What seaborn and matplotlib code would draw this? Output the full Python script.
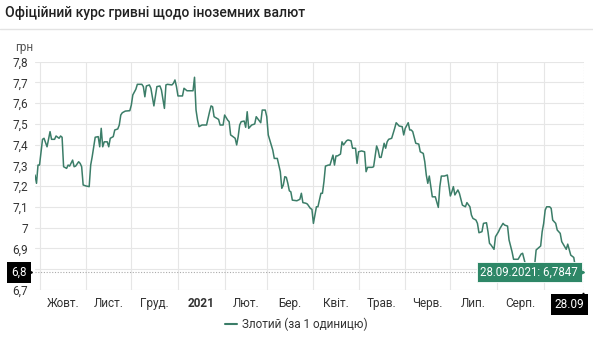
import numpy as np
import pandas as pd
import matplotlib
matplotlib.use("Agg")
import matplotlib.pyplot as plt
from matplotlib.lines import Line2D
from matplotlib.transforms import blended_transform_factory, offset_copy
import seaborn as sns

# ---- data: official UAH rate for 1 Polish zloty ----
START = "2020-10-01"
day_offsets = [
    -3, -2, -1, 0, 2, 3, 5, 7, 8, 10,
    11, 13, 14, 15, 16, 18, 19, 20, 22, 23,
    24, 26, 27, 28, 29, 31, 33, 34, 35, 36,
    37, 39, 40, 41, 42, 43, 45, 46, 47, 49,
    50, 52, 53, 54, 55, 57, 60, 61, 62, 64,
    65, 68, 69, 70, 71, 73, 74, 76, 78, 80,
    81, 83, 84, 85, 88, 89, 90, 91, 92, 93,
    95, 96, 98, 100, 102, 103, 104, 105, 106, 108,
    111, 112, 113, 114, 115, 116, 119, 120, 122, 123,
    125, 126, 127, 128, 130, 131, 132, 133, 134, 136,
    137, 138, 139, 141, 143, 144, 146, 147, 148, 150,
    151, 152, 154, 155, 156, 158, 160, 161, 162, 163,
    164, 165, 166, 167, 168, 171, 173, 174, 175, 177,
    178, 180, 181, 182, 183, 184, 185, 187, 188, 189,
    190, 192, 193, 195, 196, 197, 198, 200, 201, 202,
    204, 205, 207, 208, 210, 211, 212, 214, 216, 217,
    218, 221, 222, 224, 225, 226, 227, 228, 229, 230,
    231, 232, 234, 235, 236, 237, 239, 241, 242, 243,
    245, 246, 247, 248, 250, 252, 253, 255, 256, 257,
    258, 259, 261, 262, 263, 265, 266, 267, 269, 271,
    273, 274, 275, 276, 278, 279, 281, 283, 284, 286,
    287, 288, 290, 291, 292, 294, 295, 297, 298, 299,
    300, 302, 303, 305, 306, 308, 309, 311, 312, 314,
    315, 318, 320, 321, 323, 325, 327, 328, 329, 330,
    333, 334, 335, 336, 337, 339, 340, 341, 343, 344,
    346, 347, 349, 350, 351, 353, 355, 356, 358, 360,
    362,
]
rates = [
    7.254, 7.214, 7.302, 7.302, 7.426, 7.431, 7.390, 7.463, 7.426, 7.426,
    7.442, 7.431, 7.442, 7.436, 7.294, 7.286, 7.302, 7.297, 7.326, 7.294,
    7.297, 7.318, 7.310, 7.294, 7.206, 7.201, 7.198, 7.302, 7.342, 7.390,
    7.436, 7.439, 7.390, 7.479, 7.390, 7.414, 7.414, 7.390, 7.431, 7.439,
    7.471, 7.476, 7.495, 7.543, 7.554, 7.562, 7.564, 7.591, 7.640, 7.667,
    7.691, 7.691, 7.680, 7.631, 7.683, 7.688, 7.672, 7.587, 7.680, 7.683,
    7.664, 7.575, 7.688, 7.691, 7.688, 7.696, 7.712, 7.680, 7.635, 7.635,
    7.635, 7.672, 7.660, 7.660, 7.660, 7.725, 7.567, 7.519, 7.487, 7.495,
    7.495, 7.527, 7.559, 7.587, 7.583, 7.535, 7.522, 7.495, 7.495, 7.543,
    7.519, 7.511, 7.447, 7.442, 7.431, 7.399, 7.439, 7.495, 7.511, 7.514,
    7.484, 7.559, 7.479, 7.495, 7.500, 7.535, 7.516, 7.506, 7.567, 7.567,
    7.535, 7.447, 7.399, 7.374, 7.334, 7.334, 7.270, 7.190, 7.206, 7.246,
    7.243, 7.214, 7.178, 7.173, 7.133, 7.130, 7.137, 7.166, 7.121, 7.118,
    7.114, 7.093, 7.089, 7.021, 7.061, 7.101, 7.101, 7.166, 7.166, 7.222,
    7.297, 7.302, 7.302, 7.350, 7.302, 7.346, 7.346, 7.355, 7.414, 7.399,
    7.419, 7.423, 7.419, 7.383, 7.383, 7.310, 7.366, 7.370, 7.366, 7.270,
    7.291, 7.291, 7.294, 7.394, 7.374, 7.339, 7.339, 7.374, 7.407, 7.383,
    7.414, 7.426, 7.431, 7.455, 7.479, 7.506, 7.490, 7.487, 7.447, 7.479,
    7.506, 7.471, 7.471, 7.463, 7.407, 7.403, 7.366, 7.358, 7.318, 7.254,
    7.214, 7.249, 7.149, 7.149, 7.149, 7.098, 7.198, 7.249, 7.249, 7.254,
    7.153, 7.173, 7.198, 7.158, 7.182, 7.166, 7.109, 7.101, 7.121, 7.101,
    7.061, 7.045, 7.037, 7.021, 6.976, 6.981, 7.021, 7.024, 6.981, 6.925,
    6.917, 6.896, 6.957, 6.981, 6.997, 7.021, 7.013, 7.008, 6.941, 6.884,
    6.848, 6.848, 6.873, 6.877, 6.820, 6.780, 6.770, 6.780, 6.820, 6.893,
    6.912, 6.981, 7.021, 7.085, 7.101, 7.101, 7.093, 7.037, 7.021, 6.989,
    6.973, 6.933, 6.908, 6.896, 6.921, 6.868, 6.857, 6.812, 6.800, 6.790,
    6.7847,
]
series_label = "Злотий (за 1 одиницю)"
month_labels = ["Жовт.", "Лист.", "Груд.", "2021", "Лют.", "Бер.",
                "Квіт.", "Трав.", "Черв.", "Лип.", "Серп."]
y_ticks = [6.7, 6.8, 6.9, 7.0, 7.1, 7.2, 7.3, 7.4, 7.5, 7.6, 7.7, 7.8]
title = "Офіційний курс гривні щодо іноземних валют"
unit = "грн"

# ---- styling ----
LINE = "#3b7d68"
TIP = "#2e8767"
GRID = "#e6e6e6"
TEXT = "#333333"

sns.set_theme(style="white")
plt.rcParams["font.family"] = ["Roboto", "DejaVu Sans"]

dates = pd.Timestamp(START) + pd.to_timedelta(day_offsets, unit="D")
df = pd.DataFrame({"date": dates, "rate": rates})


def ua(v, nd=1):
    s = f"{v:.{nd}f}".replace(".", ",")
    return s[:-2] if nd == 1 and s.endswith(",0") else s


W, H = 593, 350
fig = plt.figure(figsize=(W / 100, H / 100), dpi=100)
ax = fig.add_axes([35 / W, 60 / H, 549.3 / W, 228.3 / H])

sns.lineplot(data=df, x="date", y="rate", color=LINE, linewidth=1.1,
             label=series_label, ax=ax, legend=False)

first, last = df["date"].iloc[0], df["date"].iloc[-1]
last_val = df["rate"].iloc[-1]
cross_label = ua(last_val)
ax.set_xlim(first, last)
ax.set_ylim(y_ticks[0], y_ticks[-1])

# month boundaries as gridlines, month names centred in each month
starts = pd.date_range(START, last, freq="MS")
ax.set_xticks(starts)
ax.set_xticklabels([""] * len(starts))
mids = [starts[i] + (starts[i + 1] - starts[i]) / 2 for i in range(len(month_labels))]
ax.set_xticks(mids, minor=True)
ax.set_xticklabels(month_labels, minor=True)
for lbl in ax.get_xticklabels(minor=True):
    lbl.set_color(TEXT)
    lbl.set_fontsize(8.5)
    if lbl.get_text() == "2021":
        lbl.set_fontweight("bold")
ax.tick_params(axis="x", which="both", length=0, pad=5)

# the crosshair badge takes the place of the tick label it covers
ax.set_yticks(y_ticks)
ax.set_yticklabels(["" if ua(v) == cross_label else ua(v) for v in y_ticks],
                   color=TEXT, fontsize=8.5)
ax.tick_params(axis="y", length=0, pad=5)

ax.grid(True, which="major", color=GRID, linewidth=0.8)
ax.set_axisbelow(True)
for s in ax.spines.values():
    s.set_visible(False)
ax.set_xlabel("")
ax.set_ylabel("")

# crosshair at the latest point
ax.axvline(last, color="#aaaaaa", linestyle=(0, (1, 1.5)), linewidth=0.8, zorder=1)
ax.axhline(last_val, color="#aaaaaa", linestyle=(0, (1, 1.5)), linewidth=0.8, zorder=1)

ylab = blended_transform_factory(ax.transAxes, ax.transData)
ax.text(-8 / 549.3, last_val, cross_label, transform=ylab, ha="right", va="center",
        color="white", fontsize=8.5, clip_on=False, zorder=6,
        bbox=dict(boxstyle="square,pad=0.35", fc="black", ec="none"))
ax.plot([-6 / 549.3], [last_val], marker=">", markersize=4, color="black",
        transform=ylab, clip_on=False, zorder=6)

xlab = blended_transform_factory(ax.transData, ax.transAxes)
ax.text(last, -8 / 228.3, f"{last:%d.%m}", transform=xlab, ha="right", va="top",
        color="white", fontsize=8.5, clip_on=False, zorder=6,
        bbox=dict(boxstyle="square,pad=0.35", fc="black", ec="none"))
ax.plot([last], [0], marker="^", markersize=3.5, color="black",
        transform=offset_copy(xlab, fig=fig, x=-1.2, y=-3.5, units="points"),
        clip_on=False, zorder=6)

# tooltip for the latest value
ax.annotate(f"{last:%d.%m.%Y}: " + ua(last_val, 4), xy=(last, last_val),
            xytext=(-4.5, 0), textcoords="offset points", ha="right", va="center",
            color="white", fontsize=8.3, zorder=7,
            bbox=dict(boxstyle="square,pad=0.3", fc=TIP, ec="white", lw=0.6))
ax.plot([last], [last_val], marker=">", markersize=4, color=TIP, clip_on=False,
        transform=offset_copy(ax.transData, fig=fig, x=-2.2, y=0, units="points"),
        zorder=7)

# header, unit, legend
fig.text(5 / W, 1 - 13 / H, title, ha="left", va="center", fontsize=10,
         fontweight="medium", color="#222222")
fig.add_artist(Line2D([0, 1], [1 - 29 / H, 1 - 29 / H], color="#e3e3e3", lw=1))
fig.text(15 / W, 1 - 47 / H, unit, ha="left", va="center", fontsize=8.5, color="#555555")

handle = Line2D([], [], color=LINE, linewidth=1.5)
fig.legend([handle], [series_label], loc="center", bbox_to_anchor=(0.5, 1 - 324 / H),
           frameon=False, fontsize=8.5, handlelength=1.0, handletextpad=0.4,
           labelcolor=TEXT)

fig.savefig("out.png", dpi=100, facecolor="white")
